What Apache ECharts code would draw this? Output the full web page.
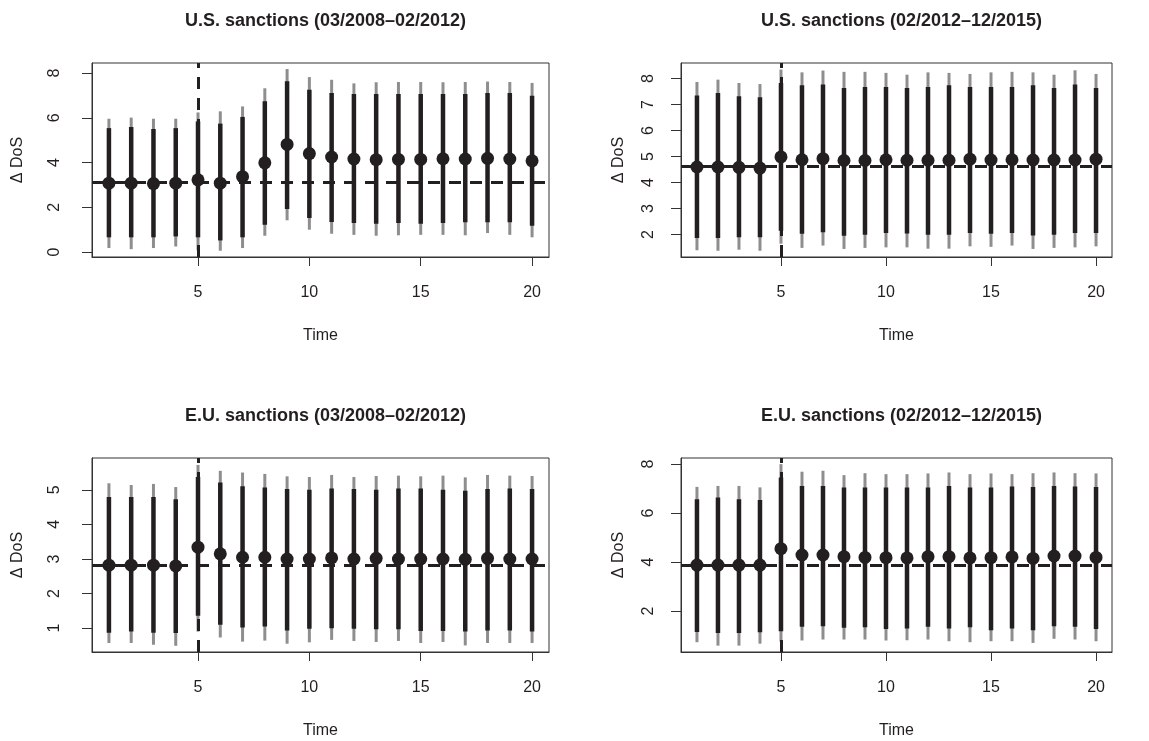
<!DOCTYPE html>
<html>
<head>
<meta charset="utf-8">
<script src="https://cdn.jsdelivr.net/npm/echarts@6/dist/echarts.min.js"></script>
<style>
  html, body { margin: 0; padding: 0; background: #fff; }
  #chart { width: 1149px; height: 741px; }
</style>
</head>
<body>
<div id="chart"></div>
<script>
// time index (months after sanction)
const time = [1, 2, 3, 4, 5, 6, 7, 8, 9, 10, 11, 12, 13, 14, 15, 16, 17, 18, 19, 20];

// U.S. sanctions 03/2008-02/2012
const usPreEst = [3.08, 3.08, 3.06, 3.08, 3.23, 3.08, 3.37, 3.99, 4.81, 4.40, 4.25, 4.16, 4.13, 4.14, 4.14, 4.17, 4.16, 4.19, 4.16, 4.08];
const usPreInnerLo = [0.66, 0.66, 0.66, 0.70, 0.66, 0.52, 0.66, 1.22, 1.92, 1.52, 1.34, 1.30, 1.27, 1.30, 1.27, 1.30, 1.33, 1.33, 1.33, 1.18];
const usPreInnerHi = [5.54, 5.59, 5.50, 5.54, 5.84, 5.74, 6.04, 6.74, 7.63, 7.26, 7.11, 7.06, 7.06, 7.06, 7.06, 7.06, 7.06, 7.11, 7.11, 6.99];
const usPreOuterLo = [0.18, 0.13, 0.18, 0.25, 0.08, 0.06, 0.18, 0.73, 1.42, 1.00, 0.82, 0.77, 0.73, 0.75, 0.77, 0.77, 0.75, 0.85, 0.77, 0.66];
const usPreOuterHi = [5.96, 6.01, 5.96, 5.96, 6.24, 6.29, 6.51, 7.32, 8.18, 7.82, 7.70, 7.54, 7.59, 7.60, 7.60, 7.59, 7.60, 7.62, 7.60, 7.56];
const usPreBase = 3.11;
const usPreTicks = [0, 2, 4, 6, 8];

// U.S. sanctions 02/2012-12/2015
const usPostEst = [4.60, 4.60, 4.59, 4.56, 4.99, 4.88, 4.92, 4.85, 4.85, 4.88, 4.86, 4.86, 4.86, 4.90, 4.87, 4.88, 4.87, 4.87, 4.87, 4.90];
const usPostInnerLo = [1.87, 1.87, 1.90, 1.90, 2.15, 2.03, 2.09, 1.96, 2.00, 2.06, 2.04, 2.00, 2.00, 2.06, 2.03, 2.06, 1.97, 2.00, 2.06, 2.06];
const usPostInnerHi = [7.35, 7.45, 7.32, 7.28, 7.83, 7.74, 7.77, 7.64, 7.68, 7.68, 7.64, 7.68, 7.74, 7.68, 7.68, 7.68, 7.74, 7.64, 7.77, 7.64];
const usPostOuterLo = [1.40, 1.38, 1.42, 1.38, 1.65, 1.49, 1.58, 1.45, 1.49, 1.51, 1.51, 1.46, 1.46, 1.55, 1.53, 1.58, 1.45, 1.49, 1.51, 1.55];
const usPostOuterHi = [7.87, 7.96, 7.83, 7.79, 8.35, 8.24, 8.31, 8.26, 8.26, 8.22, 8.15, 8.24, 8.22, 8.18, 8.24, 8.26, 8.24, 8.15, 8.32, 8.18];
const usPostBase = 4.63;
const usPostTicks = [2, 3, 4, 5, 6, 7, 8];

// E.U. sanctions 03/2008-02/2012
const euPreEst = [2.82, 2.82, 2.82, 2.80, 3.34, 3.15, 3.05, 3.05, 3.00, 3.00, 3.03, 3.00, 3.02, 3.00, 3.00, 3.00, 2.99, 3.02, 3.00, 3.00];
const euPreInnerLo = [0.87, 0.90, 0.87, 0.86, 1.36, 1.10, 1.02, 1.05, 0.93, 0.98, 1.00, 0.98, 0.97, 0.97, 0.92, 0.92, 0.90, 0.93, 0.93, 0.90];
const euPreInnerHi = [4.79, 4.79, 4.79, 4.73, 5.37, 5.21, 5.10, 5.07, 5.02, 5.00, 5.04, 5.02, 5.00, 5.04, 5.04, 5.00, 4.97, 5.02, 5.04, 5.02];
const euPreOuterLo = [0.57, 0.57, 0.52, 0.49, 0.90, 0.73, 0.61, 0.64, 0.55, 0.59, 0.66, 0.63, 0.60, 0.63, 0.57, 0.60, 0.50, 0.57, 0.57, 0.57];
const euPreOuterHi = [5.19, 5.14, 5.17, 5.08, 5.72, 5.55, 5.50, 5.46, 5.39, 5.37, 5.43, 5.37, 5.40, 5.41, 5.39, 5.41, 5.36, 5.43, 5.41, 5.40];
const euPreBase = 2.82;
const euPreTicks = [1, 2, 3, 4, 5];

// E.U. sanctions 02/2012-12/2015
const euPostEst = [3.88, 3.88, 3.88, 3.88, 4.55, 4.29, 4.29, 4.22, 4.19, 4.18, 4.17, 4.22, 4.22, 4.17, 4.18, 4.21, 4.15, 4.25, 4.25, 4.19];
const euPostInnerLo = [1.15, 1.11, 1.11, 1.14, 1.18, 1.36, 1.38, 1.32, 1.34, 1.27, 1.29, 1.36, 1.29, 1.34, 1.22, 1.29, 1.22, 1.38, 1.36, 1.27];
const euPostInnerHi = [6.57, 6.64, 6.57, 6.54, 7.45, 7.11, 7.11, 7.05, 7.05, 7.05, 7.05, 7.05, 7.11, 7.05, 7.05, 7.09, 7.07, 7.11, 7.09, 7.07];
const euPostOuterLo = [0.73, 0.59, 0.59, 0.67, 0.75, 0.80, 0.84, 0.84, 0.84, 0.80, 0.81, 0.84, 0.77, 0.73, 0.77, 0.77, 0.70, 0.87, 0.84, 0.77];
const euPostOuterHi = [7.07, 7.11, 7.11, 7.05, 8.00, 7.69, 7.73, 7.55, 7.63, 7.59, 7.59, 7.62, 7.66, 7.59, 7.62, 7.59, 7.63, 7.66, 7.63, 7.62];
const euPostBase = 3.88;
const euPostTicks = [2, 4, 6, 8];

const titles = [
  'U.S. sanctions (03/2008\u201302/2012)',
  'U.S. sanctions (02/2012\u201312/2015)',
  'E.U. sanctions (03/2008\u201302/2012)',
  'E.U. sanctions (02/2012\u201312/2015)'
];
const xTicks = [5, 10, 15, 20];
const sanctionTime = 5;

const ink = '#231f20';
const grey = '#8e8e8e';
const font = 'Liberation Sans, Arial, Helvetica, sans-serif';

const panels = [
  { est: usPreEst, iLo: usPreInnerLo, iHi: usPreInnerHi, oLo: usPreOuterLo, oHi: usPreOuterHi, base: usPreBase, ticks: usPreTicks, yMin: -0.22, yMax: 8.45,
    grid: { left: 92, top: 63, width: 457, height: 194 } },
  { est: usPostEst, iLo: usPostInnerLo, iHi: usPostInnerHi, oLo: usPostOuterLo, oHi: usPostOuterHi, base: usPostBase, ticks: usPostTicks, yMin: 1.14, yMax: 8.60,
    grid: { left: 681, top: 63, width: 431, height: 194 } },
  { est: euPreEst, iLo: euPreInnerLo, iHi: euPreInnerHi, oLo: euPreOuterLo, oHi: euPreOuterHi, base: euPreBase, ticks: euPreTicks, yMin: 0.31, yMax: 5.92,
    grid: { left: 92, top: 458, width: 457, height: 194 } },
  { est: euPostEst, iLo: euPostInnerLo, iHi: euPostInnerHi, oLo: euPostOuterLo, oHi: euPostOuterHi, base: euPostBase, ticks: euPostTicks, yMin: 0.33, yMax: 8.25,
    grid: { left: 681, top: 458, width: 431, height: 194 } }
];

// vertical segment drawn through the axis scales
function segmentRenderer(color, width) {
  return function (params, api) {
    const a = api.coord([api.value(0), api.value(1)]);
    const b = api.coord([api.value(0), api.value(2)]);
    return {
      type: 'line',
      shape: { x1: a[0], y1: a[1], x2: b[0], y2: b[1] },
      style: { stroke: color, lineWidth: width }
    };
  };
}

const grids = [], xAxes = [], yAxes = [], series = [], titleList = [];

panels.forEach(function (p, i) {
  grids.push(Object.assign({ show: true, borderColor: '#333', borderWidth: 1, containLabel: false }, p.grid));

  titleList.push({
    text: titles[i],
    left: p.grid.left + p.grid.width / 2,
    top: p.grid.top - 56,
    textAlign: 'center',
    textStyle: { fontFamily: font, fontWeight: 'bold', fontSize: 18, color: ink }
  });

  xAxes.push({
    type: 'value', gridIndex: i, min: 0.24, max: 20.76,
    name: 'Time', nameLocation: 'middle', nameGap: 71,
    nameTextStyle: { fontFamily: font, fontSize: 16, color: ink },
    axisLine: { show: true, onZero: false, lineStyle: { color: '#333' } },
    axisTick: { show: true, length: 9, customValues: xTicks, lineStyle: { color: '#333' } },
    axisLabel: { customValues: xTicks, margin: 28, fontFamily: font, fontSize: 16, color: ink },
    splitLine: { show: false }
  });

  yAxes.push({
    type: 'value', gridIndex: i, min: p.yMin, max: p.yMax,
    name: '\u0394 DoS', nameLocation: 'middle', nameGap: i % 2 === 0 ? 66 : 54,
    nameTextStyle: { fontFamily: font, fontSize: 16, color: ink },
    axisLine: { show: true, onZero: false, lineStyle: { color: '#333' } },
    axisTick: { show: true, length: 10, customValues: p.ticks, lineStyle: { color: '#333' } },
    axisLabel: { customValues: p.ticks, rotate: 90, margin: i % 2 === 0 ? 29 : 24, fontFamily: font, fontSize: 16, color: ink },
    splitLine: { show: false }
  });

  // dashed reference lines: pre-sanction level and sanction date
  series.push({
    type: 'line', xAxisIndex: i, yAxisIndex: i, data: [], z: 1,
    markLine: {
      silent: true, symbol: 'none', label: { show: false },
      lineStyle: { color: ink, width: 3, type: [12, 9], opacity: 1 },
      data: [{ yAxis: p.base }, { xAxis: sanctionTime }]
    }
  });

  series.push({
    type: 'custom', xAxisIndex: i, yAxisIndex: i, z: 2,
    renderItem: segmentRenderer(grey, 3),
    encode: { x: 0, y: [1, 2] },
    data: time.map(function (t, k) { return [t, p.oLo[k], p.oHi[k]]; })
  });

  series.push({
    type: 'custom', xAxisIndex: i, yAxisIndex: i, z: 3,
    renderItem: segmentRenderer(ink, 4.5),
    encode: { x: 0, y: [1, 2] },
    data: time.map(function (t, k) { return [t, p.iLo[k], p.iHi[k]]; })
  });

  series.push({
    type: 'scatter', xAxisIndex: i, yAxisIndex: i, z: 4,
    symbol: 'circle', symbolSize: 13,
    itemStyle: { color: ink, opacity: 1 },
    data: time.map(function (t, k) { return [t, p.est[k]]; })
  });
});

const chart = echarts.init(document.getElementById('chart'), null, { renderer: 'canvas' });
chart.setOption({
  animation: false,
  backgroundColor: '#fff',
  title: titleList,
  grid: grids,
  xAxis: xAxes,
  yAxis: yAxes,
  series: series
});
window.addEventListener('resize', function () { chart.resize(); });
</script>
</body>
</html>
